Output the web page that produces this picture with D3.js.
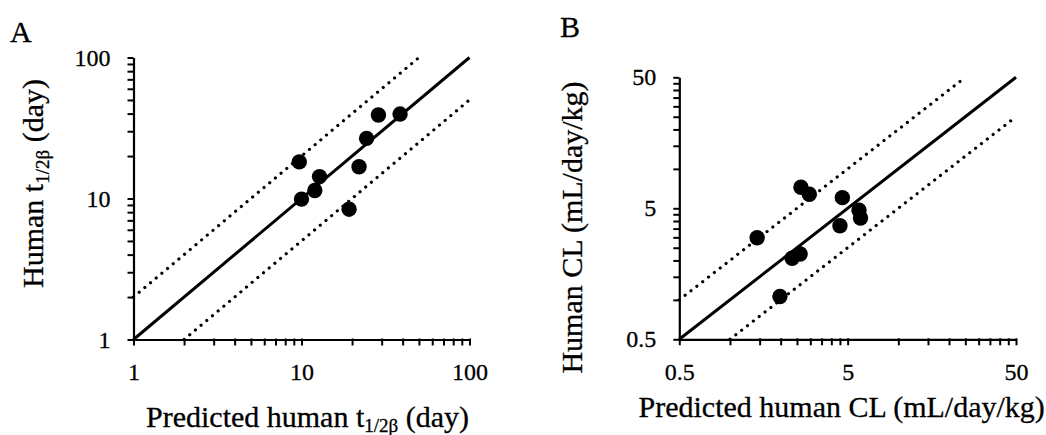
<!DOCTYPE html>
<html>
<head>
<meta charset="utf-8">
<script src="https://cdn.jsdelivr.net/npm/d3@7"></script>
<style>
  html, body { margin: 0; padding: 0; background: #fff; }
  svg { display: block; font-family: "Liberation Serif", "Times New Roman", serif; }
  text { stroke: #000; stroke-width: 0.3px; }
</style>
</head>
<body>
<svg id="chart" width="1046" height="435"></svg>
<script>
// Panel A: terminal half-life, predicted vs observed (days)
const predHalfLife = [9.7, 10.0, 12.0, 12.8, 19.2, 22.0, 24.4, 28.7, 38.6];
const obsHalfLife  = [18.2, 9.9, 11.4, 14.3, 8.4, 16.8, 26.7, 39.1, 39.7];
const halfLifeMajor = [1, 10, 100];
const halfLifeMinor = [2, 3, 4, 5, 6, 7, 8, 9, 20, 30, 40, 50, 60, 70, 80, 90];

// Panel B: clearance, predicted vs observed (mL/day/kg)
const predClearance = [1.45, 1.98, 2.34, 2.61, 2.64, 2.96, 4.50, 4.65, 5.84, 5.96];
const obsClearance  = [2.98, 1.06, 2.08, 2.24, 7.23, 6.40, 3.68, 6.03, 4.83, 4.22];
const clearanceMajor = [0.5, 5, 50];
const clearanceMinor = [1, 1.5, 2, 2.5, 3, 3.5, 4, 4.5, 10, 15, 20, 25, 30, 35, 40, 45];

// Reference lines: unity and two-fold bounds
const foldFactor = 2;

const svg = d3.select("#chart");

function drawPanel(opt) {
  const x = d3.scaleLog().domain(opt.domain).range(opt.xRange);
  const y = d3.scaleLog().domain(opt.domain).range(opt.yRange);
  const g = svg.append("g");
  const lo = opt.domain[0], hi = opt.domain[1];

  // unity line
  g.append("line")
    .attr("x1", x(lo)).attr("y1", y(lo))
    .attr("x2", x(hi)).attr("y2", y(hi))
    .attr("stroke", "#000").attr("stroke-width", 3);

  // two-fold lines (dotted)
  const bounds = [
    [[lo, lo * foldFactor], [hi / foldFactor, hi]],
    [[lo * foldFactor, lo], [hi, hi / foldFactor]]
  ];
  bounds.forEach(b => {
    g.append("line")
      .attr("x1", x(b[0][0])).attr("y1", y(b[0][1]))
      .attr("x2", x(b[1][0])).attr("y2", y(b[1][1]))
      .attr("stroke", "#000").attr("stroke-width", 3.2)
      .attr("stroke-linecap", "round")
      .attr("stroke-dasharray", "0.01,7.4");
  });

  // axes
  const allTicks = opt.major.concat(opt.minor);
  const fmt = d => opt.major.includes(d) ? String(d) : "";

  const yAxis = d3.axisLeft(y).tickValues(allTicks).tickFormat(fmt)
    .tickSize(6).tickSizeOuter(0).tickPadding(17);
  const gy = g.append("g").attr("transform", `translate(${opt.xRange[0]},0)`).call(yAxis);

  const xAxis = d3.axisBottom(x).tickValues(allTicks).tickFormat(fmt)
    .tickSize(6).tickSizeOuter(0).tickPadding(17.5);
  const gx = g.append("g").attr("transform", `translate(0,${opt.yRange[0]})`).call(xAxis);

  [gx, gy].forEach(a => {
    a.select(".domain").attr("stroke", "#000").attr("stroke-width", 2.2);
    a.selectAll(".tick line").attr("stroke", "#000").attr("stroke-width", 2);
    a.selectAll(".tick text")
      .attr("fill", "#000")
      .style("font-family", "'Liberation Serif', serif")
      .style("font-size", "24px");
  });
  // x-axis corner tick also reaches a little above the axis line
  gx.selectAll(".tick line").attr("y1", -1);

  // data points
  g.selectAll("circle.pt")
    .data(opt.pred.map((p, i) => [p, opt.obs[i]]))
    .join("circle")
    .attr("class", "pt")
    .attr("cx", d => x(d[0]))
    .attr("cy", d => y(d[1]))
    .attr("r", 7.7)
    .attr("fill", "#000");

  // panel letter
  svg.append("text")
    .attr("x", opt.letterPos[0]).attr("y", opt.letterPos[1])
    .attr("font-size", 30).attr("fill", "#000")
    .text(opt.letter);

  // y title
  const yt = svg.append("text")
    .attr("transform", `translate(${opt.yTitlePos[0]},${opt.yTitlePos[1]}) rotate(-90)`)
    .attr("text-anchor", "middle")
    .attr("font-size", 30).attr("fill", "#000");
  opt.yTitle(yt);

  // x title
  const xt = svg.append("text")
    .attr("x", opt.xTitlePos[0]).attr("y", opt.xTitlePos[1])
    .attr("text-anchor", "middle")
    .attr("font-size", 30).attr("fill", "#000");
  opt.xTitle(xt);
}

function halfLifeLabel(prefix) {
  return t => {
    t.append("tspan").text(prefix + "t");
    t.append("tspan").attr("font-size", 19).attr("dy", 5.5).text("1/2β");
    t.append("tspan").attr("dy", -5.5).text(" (day)");
  };
}

drawPanel({
  letter: "A",
  letterPos: [10, 42],
  domain: [1, 100],
  xRange: [133.5, 469.5],
  yRange: [339.5, 57.5],
  major: halfLifeMajor,
  minor: halfLifeMinor,
  pred: predHalfLife,
  obs: obsHalfLife,
  yTitlePos: [43, 183.5],
  yTitle: halfLifeLabel("Human "),
  xTitlePos: [307.5, 426.5],
  xTitle: halfLifeLabel("Predicted human ")
});

drawPanel({
  letter: "B",
  letterPos: [560, 37],
  domain: [0.5, 50],
  xRange: [679.3, 1016],
  yRange: [339.3, 77.3],
  major: clearanceMajor,
  minor: clearanceMinor,
  pred: predClearance,
  obs: obsClearance,
  yTitlePos: [582, 227.5],
  yTitle: t => t.text("Human CL (mL/day/kg)"),
  xTitlePos: [841.7, 416.7],
  xTitle: t => t.text("Predicted human CL (mL/day/kg)")
});
</script>
</body>
</html>
